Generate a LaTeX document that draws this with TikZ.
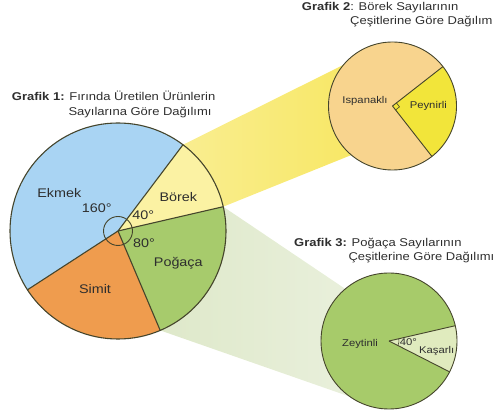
\documentclass[tikz,border=0pt]{standalone}
\usepackage{fontspec}
\setmainfont{Liberation Sans}[FakeStretch=1.15]
\usetikzlibrary{calc}
\definecolor{ekmekc}{HTML}{A9D4F3}
\definecolor{borekc}{HTML}{FBF2A3}
\definecolor{pogacac}{HTML}{A7CB6C}
\definecolor{simitc}{HTML}{EF9C4E}
\definecolor{ispc}{HTML}{F8D48E}
\definecolor{peyc}{HTML}{F2E53A}
\definecolor{zeyc}{HTML}{A7CB6A}
\definecolor{kasc}{HTML}{E0EBBE}
\definecolor{ybL}{HTML}{FAF0A0}
\definecolor{ybR}{HTML}{F7E65C}
\definecolor{gbL}{HTML}{DCE7C6}
\definecolor{gbR}{HTML}{EBF1DF}
\definecolor{linec}{HTML}{45452C}
\definecolor{txtc}{HTML}{2E2E2E}
\tikzset{
  outl/.style={draw=linec, line width=1.1pt},
  outs/.style={draw=linec, line width=0.9pt},
  title/.style={anchor=west, inner sep=0pt, text=txtc, font=\fontsize{11.3}{13}\selectfont},
  biglbl/.style={inner sep=0pt, text=txtc, font=\fontsize{12.5}{14}\selectfont},
  smlbl/.style={inner sep=0pt, text=txtc, font=\fontsize{9.8}{11}\selectfont}
}
\begin{document}
\begin{tikzpicture}[x=1pt,y=1pt]
\useasboundingbox (0,0) rectangle (497,417);
\coordinate (m) at (118,186);
\coordinate (g2) at (392.5,311);
\coordinate (g3) at (389,76);
% beams
\shade[left color=ybL, right color=ybR] ($(m)+(53:108)$) -- ($(g2)+(140:64)$) -- (g2) -- ($(g2)+(230:64)$) -- ($(m)+(13:108)$) -- (m) -- cycle;
\shade[left color=gbL, right color=gbR] ($(m)+(13:108)$) -- ($(g3)+(130:68)$) -- (g3) -- ($(g3)+(235:68)$) -- ($(m)+(-67:108)$) -- (m) -- cycle;
% main pie
\fill[ekmekc] (m) -- ($(m)+(53:108)$) arc[start angle=53, end angle=213, radius=108] -- cycle;
\fill[borekc] (m) -- ($(m)+(13:108)$) arc[start angle=13, end angle=53, radius=108] -- cycle;
\fill[pogacac] (m) -- ($(m)+(-67:108)$) arc[start angle=-67, end angle=13, radius=108] -- cycle;
\fill[simitc] (m) -- ($(m)+(213:108)$) arc[start angle=213, end angle=293, radius=108] -- cycle;
\draw[outl] (m) circle[radius=108];
\draw[outl] (m) -- ($(m)+(53:108)$);
\draw[outl] (m) -- ($(m)+(13:108)$);
\draw[outl] (m) -- ($(m)+(-67:108)$);
\draw[outl] (m) -- ($(m)+(213:108)$);
\draw[draw=linec, line width=0.9pt] (m) circle[radius=14.5];
% grafik 2
\fill[ispc] (g2) circle[radius=64];
\fill[peyc] (g2) -- ($(g2)+(-52:64)$) arc[start angle=-52, end angle=38, radius=64] -- cycle;
\draw[outs] (g2) circle[radius=64];
\draw[outs] (g2) -- ($(g2)+(38:64)$);
\draw[outs] (g2) -- ($(g2)+(-52:64)$);
\draw[draw=linec, line width=0.6pt] ($(g2)+(38:5)$) -- ($(g2)+(38:5)+(-52:5)$) -- ($(g2)+(-52:5)$);
% grafik 3
\fill[zeyc] (g3) circle[radius=68];
\fill[kasc] (g3) -- ($(g3)+(-27:68)$) arc[start angle=-27, end angle=13, radius=68] -- cycle;
\draw[outs] (g3) circle[radius=68];
\draw[outs] (g3) -- ($(g3)+(13:68)$);
\draw[outs] (g3) -- ($(g3)+(-27:68)$);
\draw[draw=linec, line width=0.6pt] ($(g3)+(-27:10)$) arc[start angle=-27, end angle=13, radius=10];
% labels main
\node[biglbl] (lekmek) at (59.3,224.3) {Ekmek};
\node[biglbl] (l160) at (96.7,208.7) {160°};
\node[biglbl] (lborek) at (178.3,220.3) {Börek};
\node[biglbl] (l40) at (143.3,202) {40°};
\node[biglbl] (l80) at (144,173.7) {80°};
\node[biglbl] (lpogaca) at (178.3,153.7) {Poğaça};
\node[biglbl] (lsimit) at (95,127.7) {Simit};
% labels g2, g3
\node[smlbl] (lisp) at (365,316) {Ispanaklı};
\node[smlbl] (lpey) at (428.3,311) {Peynirli};
\node[smlbl] (lzey) at (360,73) {Zeytinli};
\node[smlbl] (lk40) at (408.3,74.7) {40°};
\node[smlbl] (lkas) at (436.7,66.3) {Kaşarlı};
% titles
\node[title] (t1a) at (11.7,321.3) {\textbf{Grafik 1:} Fırında Üretilen Ürünlerin};
\node[title] (t1b) at (68.3,304.7) {Sayılarına Göre Dağılımı};
\node[title] (t2a) at (301.7,409.7) {\textbf{Grafik 2}: Börek Sayılarının};
\node[title] (t2b) at (350,395.3) {Çeşitlerine Göre Dağılım};
\node[title] (t3a) at (294,173) {\textbf{Grafik 3:} Poğaça Sayılarının};
\node[title] (t3b) at (348.3,159.5) {Çeşitlerine Göre Dağılımı};
\end{tikzpicture}
\end{document}
